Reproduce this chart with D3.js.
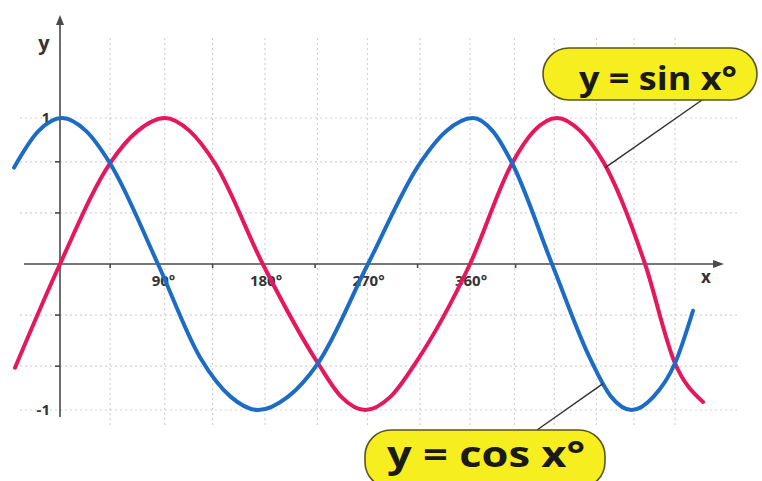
<!DOCTYPE html>
<html>
<head>
<meta charset="utf-8">
<script src="https://cdn.jsdelivr.net/npm/d3@7"></script>
<style>
  html, body { margin: 0; padding: 0; background: #fff; }
  svg { display: block; }
</style>
</head>
<body>
<svg id="chart" width="762" height="481"></svg>
<script>
// Sketched sine curve: [angle in degrees, value]
const sinPoints = [
  [-39.5, -0.71], [0, 0], [43.9, 0.69], [68, 0.91], [92, 1.0], [114, 0.91], [136, 0.69],
  [178, 0], [226.5, -0.68], [247, -0.91], [268, -1.0], [290, -0.91], [312, -0.68],
  [360, 0], [397, 0.69], [416, 0.91], [436.4, 1.0], [457, 0.91], [477, 0.70],
  [513.7, 0], [540, -0.68], [564.6, -0.945]
];
// Sketched cosine curve
const cosPoints = [
  [-40.4, 0.66], [-19, 0.91], [1.8, 1.0], [23, 0.91], [43.9, 0.69], [86, 0],
  [123, -0.64], [150, -0.91], [174, -1.0], [200, -0.91], [226.5, -0.68], [270.4, 0],
  [316, 0.69], [339, 0.91], [362.6, 1.0], [380, 0.91], [397, 0.69], [432, 0],
  [465, -0.64], [484, -0.91], [502, -1.0], [521, -0.91], [540, -0.68], [555.8, -0.32]
];
const xTickLabels = ["90°", "180°", "270°", "360°"];
const xTickLabelAngles = [90, 180, 270, 360];
const xMinorTicks = [44, 134, 224, 314, 400];
const xGridAngles = [44, 92, 134, 180, 226, 270, 316, 360, 399, 434, 471, 504, 540];
const yGridValues = [1, 0.7, 0.35, -0.35, -0.7, -1];
const yMinorTicks = [0.7, 0.35, -0.35, -0.7];
const yTickLabels = ["1", "-1"];
const yTickLabelValues = [1, -1];
const seriesNames = ["y = sin x°", "y = cos x°"];

const svg = d3.select("#chart");
const x = d3.scaleLinear().domain([0, 360]).range([60, 470]);
const y = d3.scaleLinear().domain([-1, 1]).range([410, 118]);

const axisColor = "#4a4a4a";
const sinColor = "#e5175f";
const cosColor = "#1c6cc6";

// Dotted grid
const grid = svg.append("g").attr("stroke", "#d2d2d2").attr("stroke-width", 1.2)
  .attr("stroke-dasharray", "2,3");
grid.selectAll("line.v").data(xGridAngles).join("line")
  .attr("x1", d => x(d)).attr("x2", d => x(d))
  .attr("y1", 38).attr("y2", 428);
grid.selectAll("line.h").data(yGridValues).join("line")
  .attr("x1", 20).attr("x2", 740)
  .attr("y1", d => y(d)).attr("y2", d => y(d));

// Axes
const axes = svg.append("g").attr("stroke", axisColor).attr("stroke-width", 1.6);
axes.append("line").attr("x1", 24).attr("x2", 716).attr("y1", y(0)).attr("y2", y(0));
axes.append("line").attr("x1", x(0)).attr("x2", x(0)).attr("y1", 417).attr("y2", 22);
svg.append("path").attr("fill", axisColor)
  .attr("d", `M${x(0)},15 L${x(0) - 4},25 L${x(0) + 4},25 Z`);
svg.append("path").attr("fill", axisColor)
  .attr("d", `M724,${y(0)} L713,${y(0) - 4} L713,${y(0) + 4} Z`);

axes.selectAll("line.xt").data(xMinorTicks).join("line")
  .attr("x1", d => x(d)).attr("x2", d => x(d))
  .attr("y1", y(0)).attr("y2", y(0) + 4);
axes.selectAll("line.yt").data(yMinorTicks).join("line")
  .attr("x1", x(0) - 5).attr("x2", x(0))
  .attr("y1", d => y(d)).attr("y2", d => y(d));

const labelFont = "'Open Sans', 'DejaVu Sans', sans-serif";
svg.selectAll("text.xl").data(xTickLabels).join("text")
  .attr("x", (d, i) => x(xTickLabelAngles[i]) + 1).attr("y", y(0) + 22)
  .attr("text-anchor", "middle").attr("font-family", labelFont)
  .attr("font-weight", 700).attr("font-size", 15).attr("fill", "#333")
  .text(d => d);
svg.selectAll("text.yl").data(yTickLabels).join("text")
  .attr("x", x(0) - 10).attr("y", (d, i) => y(yTickLabelValues[i]) + 5)
  .attr("text-anchor", "end").attr("font-family", labelFont)
  .attr("font-weight", 700).attr("font-size", 15).attr("fill", "#333")
  .text(d => d);
svg.append("text").attr("x", 44).attr("y", 50).attr("text-anchor", "middle")
  .attr("font-family", labelFont).attr("font-weight", 700).attr("font-size", 20)
  .attr("fill", "#333").text("y");
svg.append("text").attr("x", 706).attr("y", 283).attr("text-anchor", "middle")
  .attr("font-family", labelFont).attr("font-weight", 700).attr("font-size", 17)
  .attr("fill", "#333").text("x");

// Curves
const line = d3.line().x(d => x(d[0])).y(d => y(d[1])).curve(d3.curveMonotoneX);
svg.append("path").datum(sinPoints).attr("d", line)
  .attr("fill", "none").attr("stroke", sinColor).attr("stroke-width", 4)
  .attr("stroke-linecap", "round");
svg.append("path").datum(cosPoints).attr("d", line)
  .attr("fill", "none").attr("stroke", cosColor).attr("stroke-width", 4)
  .attr("stroke-linecap", "round");

// Callouts: pill-shaped label with a leader line to its curve
function callout(label, box, textPos, size, width, from, to) {
  svg.append("line").attr("x1", from[0]).attr("y1", from[1]).attr("x2", to[0]).attr("y2", to[1])
    .attr("stroke", "#333").attr("stroke-width", 1.5);
  svg.append("rect").attr("x", box[0]).attr("y", box[1]).attr("width", box[2]).attr("height", box[3])
    .attr("rx", 26).attr("fill", "#f6ee1e").attr("stroke", "#5a5520").attr("stroke-width", 1.6);
  svg.append("text").attr("x", textPos[0]).attr("y", textPos[1])
    .attr("font-family", labelFont)
    .attr("font-weight", 700).attr("font-size", size).attr("fill", "#1a1a1a")
    .attr("textLength", width).attr("lengthAdjust", "spacingAndGlyphs")
    .text(label);
}
callout(seriesNames[0], [543, 48, 214, 52], [579, 90], 33, 158, [702, 100], [x(477) + 2, y(0.66)]);
callout(seriesNames[1], [365, 430, 240, 58], [387, 467], 35, 198, [537, 430], [x(475) + 2, y(-0.82)]);
</script>
</body>
</html>
